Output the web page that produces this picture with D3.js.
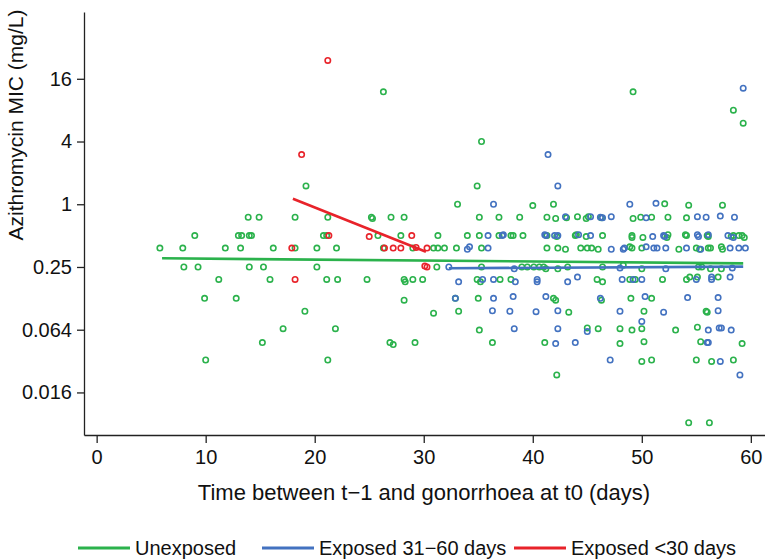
<!DOCTYPE html>
<html lang="en">
<head>
<meta charset="UTF-8">
<title>Azithromycin MIC vs time</title>
<script src="https://cdn.jsdelivr.net/npm/d3@7"></script>
<style>
  body { margin: 0; background: #fff; }
  svg { display: block; font-family: "Liberation Sans", Arial, Helvetica, sans-serif; }
</style>
</head>
<body>
<script>
// series points: [days between t-1 and t0, azithromycin MIC mg/L]
const unexposed = [
  [5.8, 0.38], [7.9, 0.38], [8.0, 0.25], [9.0, 0.5], [9.3, 0.25], [9.9, 0.125], [10.0, 0.032], [11.2, 0.19],
  [11.8, 0.38], [12.8, 0.125], [13.0, 0.5], [13.3, 0.5], [13.2, 0.38], [13.9, 0.75], [14.0, 0.5], [14.2, 0.5],
  [14.0, 0.25], [14.9, 0.75], [15.2, 0.047], [15.3, 0.25], [15.9, 0.19], [16.2, 0.38], [17.1, 0.064], [18.2, 0.75],
  [18.2, 0.38], [19.1, 0.094], [19.2, 1.5], [20.2, 0.38], [20.2, 0.25],
  [21.2, 0.75], [20.8, 0.5], [21.1, 0.5], [22.0, 0.38], [21.1, 0.19], [22.1, 0.19], [21.9, 0.064], [21.2, 0.032],
  [26.3, 12], [25.2, 0.75], [25.3, 0.73], [27.0, 0.75], [28.2, 0.75], [25.8, 0.5], [27.9, 0.5], [26.3, 0.38],
  [29.0, 0.38], [24.8, 0.19], [28.2, 0.19], [28.3, 0.18], [29.0, 0.19], [29.9, 0.19], [28.2, 0.12],
  [26.9, 0.047], [27.2, 0.045], [29.2, 0.047],
  [30.9, 0.38], [31.3, 0.38], [31.9, 0.38], [33.0, 0.38], [35.3, 0.38], [31.3, 0.5], [34.0, 0.5], [35.1, 0.5],
  [36.9, 0.5], [38.0, 0.5], [38.2, 0.5], [39.1, 0.5],
  [33.1, 1], [35.3, 4], [34.9, 1.5], [35.1, 0.75], [36.9, 0.75], [38.8, 0.75], [40.0, 0.97], [41.9, 1],
  [31.2, 0.25], [35.3, 0.25], [39.0, 0.25], [39.5, 0.25], [40.1, 0.25], [40.6, 0.25], [41.0, 0.25], [41.2, 0.24],
  [42.3, 0.24], [43.2, 0.25],
  [34.9, 0.19], [35.2, 0.18], [37.0, 0.19], [38.0, 0.19],
  [32.9, 0.125], [35.0, 0.125], [41.9, 0.125], [42.1, 0.12],
  [30.9, 0.09], [33.2, 0.094], [43.3, 0.092],
  [35.1, 0.062], [45.0, 0.065],
  [36.3, 0.047], [41.1, 0.047], [42.2, 0.023],
  [41.3, 0.75], [42.1, 0.73], [43.1, 0.74], [44.1, 0.76], [44.9, 0.73], [45.1, 0.76],
  [41.3, 0.5], [42.2, 0.49], [43.9, 0.5], [44.0, 0.51], [44.9, 0.49],
  [41.3, 0.38], [42.3, 0.38], [43.0, 0.37], [44.4, 0.38], [45.0, 0.38],
  [52.1, 1.01], [54.3, 0.98], [57.4, 0.98],
  [49.2, 0.73], [49.9, 0.75], [50.9, 0.75], [52.4, 0.75], [54.1, 0.74], [46.3, 0.74],
  [46.4, 0.5], [49.1, 0.5], [49.1, 0.48], [50.1, 0.48], [52.4, 0.51], [52.3, 0.48], [54.0, 0.51], [54.1, 0.5],
  [56.0, 0.5], [56.1, 0.49], [58.2, 0.49], [58.4, 0.5], [58.9, 0.5], [59.2, 0.5], [59.4, 0.48],
  [45.4, 0.38], [46.0, 0.37], [48.9, 0.39], [49.1, 0.38], [50.0, 0.38], [53.4, 0.37], [55.0, 0.38], [55.3, 0.37],
  [56.1, 0.38], [56.3, 0.38], [57.3, 0.39], [57.4, 0.37],
  [46.4, 0.25], [48.3, 0.26], [50.0, 0.24], [55.2, 0.25], [55.5, 0.25], [56.3, 0.24], [57.3, 0.24],
  [45.9, 0.19], [46.4, 0.18], [48.9, 0.19], [49.4, 0.19], [51.9, 0.19], [54.1, 0.19], [54.4, 0.2], [55.1, 0.2],
  [57.0, 0.2],
  [46.3, 0.12], [49.0, 0.125], [50.9, 0.125],
  [50.2, 0.094], [55.9, 0.094], [56.0, 0.092],
  [46.0, 0.064], [48.0, 0.064], [49.1, 0.062], [50.0, 0.064], [53.1, 0.062], [55.1, 0.066],
  [48.0, 0.046], [50.2, 0.048], [55.4, 0.048], [59.2, 0.046],
  [50.0, 0.031], [50.9, 0.032], [55.0, 0.032], [56.4, 0.031], [58.4, 0.032],
  [54.3, 0.008], [56.2, 0.008],
  [49.2, 12], [58.4, 8], [59.3, 6]
];

const exposed31to60 = [
  [36.4, 1], [35.9, 0.5], [37.2, 0.5], [37.3, 0.51], [34.0, 0.37], [34.2, 0.39], [35.9, 0.38], [32.3, 0.25],
  [38.3, 0.24], [33.2, 0.18], [35.4, 0.19], [36.4, 0.19], [38.4, 0.18], [40.4, 0.19], [40.4, 0.18],
  [32.9, 0.125], [36.4, 0.125], [38.2, 0.13], [36.3, 0.095], [37.9, 0.094], [40.3, 0.093], [38.3, 0.064],
  [43.0, 0.76], [41.1, 0.51], [41.2, 0.5], [42.0, 0.5], [42.3, 0.5], [44.2, 0.51], [43.2, 0.18], [44.1, 0.2],
  [41.2, 0.13], [42.3, 0.095], [45.0, 0.06], [42.3, 0.064], [42.1, 0.046], [43.9, 0.047],
  [42.3, 1.5], [41.4, 3],
  [48.9, 1], [51.3, 1.02],
  [45.3, 0.76], [46.2, 0.75], [46.4, 0.74], [47.2, 0.76], [50.4, 0.74], [55.1, 0.76], [55.9, 0.75], [57.2, 0.77],
  [58.5, 0.75],
  [45.3, 0.5], [51.0, 0.49], [52.0, 0.5], [52.1, 0.49], [55.1, 0.51], [55.2, 0.49], [56.1, 0.51], [57.9, 0.5],
  [58.4, 0.48],
  [47.2, 0.37], [48.3, 0.37], [48.4, 0.38], [50.4, 0.39], [51.1, 0.38], [51.4, 0.38], [52.2, 0.38], [54.1, 0.38],
  [55.4, 0.37], [58.1, 0.38], [58.9, 0.38], [59.5, 0.38],
  [48.0, 0.245], [52.2, 0.24], [58.3, 0.245],
  [48.2, 0.19], [49.2, 0.19], [50.0, 0.19], [55.0, 0.19], [56.4, 0.2], [56.4, 0.19], [58.1, 0.2],
  [46.2, 0.125], [50.3, 0.13], [54.2, 0.127], [57.0, 0.127],
  [48.0, 0.094], [52.0, 0.092], [57.0, 0.095], [50.0, 0.075],
  [56.1, 0.062], [57.1, 0.065], [57.3, 0.065], [58.2, 0.062],
  [56.0, 0.047], [56.1, 0.047],
  [47.1, 0.032], [57.2, 0.031], [59.0, 0.023],
  [59.3, 13]
];

const exposedUnder30 = [
  [21.2, 24], [18.8, 3], [17.9, 0.38], [18.2, 0.19], [21.3, 0.5], [25.0, 0.49], [28.9, 0.5],
  [26.4, 0.38], [27.2, 0.38], [27.9, 0.38], [29.3, 0.385], [30.3, 0.38], [30.1, 0.255], [30.3, 0.25]
];

// fitted trend lines (start and end)
const unexposedFit = [[6.0, 0.303], [59.3, 0.271]];
const exposed31to60Fit = [[32.3, 0.243], [59.3, 0.252]];
const exposedUnder30Fit = [[18.0, 1.13], [30.2, 0.35]];

const xTicks = [0, 10, 20, 30, 40, 50, 60];
const yTicks = [1 / 64, 1 / 16, 0.25, 1, 4, 16];
const yTickLabels = ["0.016", "0.064", "0.25", "1", "4", "16"];

const seriesNames = ["Unexposed", "Exposed 31\u221260 days", "Exposed <30 days"];
const seriesColors = ["#2bb24c", "#4372c0", "#e8232a"];

const width = 765, height = 560;
const svg = d3.select("body").append("svg").attr("width", width).attr("height", height);

const x = d3.scaleLinear().domain([-1.16, 61.3]).range([84, 765]);
const y = d3.scaleLog().base(2).domain([0.0061, 70]).range([435, 12]);

// axes
const yAxis = svg.append("g")
  .attr("transform", "translate(84,0)")
  .call(d3.axisLeft(y).tickValues(yTicks).tickFormat((d, i) => yTickLabels[i])
    .tickSize(7).tickSizeOuter(0).tickPadding(5));
const xAxis = svg.append("g")
  .attr("transform", "translate(0,435)")
  .call(d3.axisBottom(x).tickValues(xTicks).tickSize(8).tickSizeOuter(0).tickPadding(7));

[xAxis, yAxis].forEach(ax => {
  ax.select(".domain").attr("stroke", "#222").attr("stroke-width", 1.3);
  ax.selectAll(".tick line").attr("stroke", "#222").attr("stroke-width", 1.3);
  ax.selectAll(".tick text").attr("fill", "#111").style("font-size", "20px")
    .style("font-family", "'Liberation Sans', Arial, sans-serif");
});

svg.append("text")
  .attr("transform", "translate(23,125) rotate(-90)")
  .attr("text-anchor", "middle")
  .attr("fill", "#111")
  .style("font-size", "21px")
  .text("Azithromycin MIC (mg/L)");

svg.append("text")
  .attr("x", 424).attr("y", 500)
  .attr("text-anchor", "middle")
  .attr("fill", "#111")
  .style("font-size", "22px")
  .text("Time between t\u22121 and gonorrhoea at t0 (days)");

// points
const allSeries = [unexposed, exposed31to60, exposedUnder30];
allSeries.forEach((pts, i) => {
  svg.append("g").selectAll("circle")
    .data(pts)
    .join("circle")
    .attr("cx", d => x(d[0]))
    .attr("cy", d => y(d[1]))
    .attr("r", 2.7)
    .attr("fill", "none")
    .attr("stroke", seriesColors[i])
    .attr("stroke-width", 1.6);
});

// trend lines
const line = d3.line().x(d => x(d[0])).y(d => y(d[1]));
[unexposedFit, exposed31to60Fit, exposedUnder30Fit].forEach((fit, i) => {
  svg.append("path")
    .attr("d", line(fit))
    .attr("fill", "none")
    .attr("stroke", seriesColors[i])
    .attr("stroke-width", 2.6);
});

// legend
const legendX = [78, 262, 514];
const legend = svg.append("g");
seriesNames.forEach((name, i) => {
  legend.append("line")
    .attr("x1", legendX[i]).attr("x2", legendX[i] + 52)
    .attr("y1", 548).attr("y2", 548)
    .attr("stroke", seriesColors[i]).attr("stroke-width", 3);
  legend.append("text")
    .attr("x", legendX[i] + 57).attr("y", 555)
    .attr("fill", "#111")
    .style("font-size", "20px")
    .text(name);
});
</script>
</body>
</html>
